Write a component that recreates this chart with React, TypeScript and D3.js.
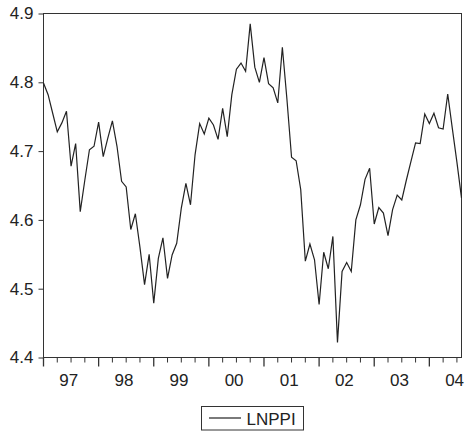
import React, { useEffect, useRef } from "react";
import * as d3 from "d3";

// Monthly observations, 1997M01 .. 2004M08
const startYear = 1997;
const lnppi: number[] = [
  4.799, 4.782, 4.755, 4.728, 4.741, 4.758, 4.678, 4.711, 4.612, 4.658, 4.702, 4.707,
  4.742, 4.692, 4.719, 4.744, 4.707, 4.656, 4.648, 4.586, 4.609, 4.56, 4.506, 4.55,
  4.479, 4.544, 4.574, 4.515, 4.549, 4.566, 4.617, 4.653, 4.622, 4.695, 4.74, 4.725,
  4.748, 4.738, 4.717, 4.762, 4.721, 4.782, 4.819, 4.828, 4.816, 4.885, 4.822, 4.8,
  4.836, 4.798, 4.792, 4.77, 4.851, 4.775, 4.691, 4.686, 4.644, 4.54, 4.565, 4.542,
  4.477, 4.553, 4.529, 4.576, 4.422, 4.525, 4.538, 4.525, 4.6, 4.622, 4.659, 4.675,
  4.594, 4.618, 4.61, 4.577, 4.615, 4.636, 4.629, 4.658, 4.685, 4.712, 4.711, 4.754,
  4.74, 4.755, 4.734, 4.732, 4.783, 4.733, 4.684, 4.632,
];
const yearLabels: string[] = ["97", "98", "99", "00", "01", "02", "03", "04"];
const yTicks: number[] = [4.4, 4.5, 4.6, 4.7, 4.8, 4.9];
const seriesName = "LNPPI";

export default function App() {
  const ref = useRef<SVGSVGElement>(null);

  useEffect(() => {
    document.body.style.margin = "0";
    const svg = d3.select(ref.current);
    svg.selectAll("*").remove();

    const W = 466, H = 440;
    const left = 43.5, right = 461.5, top = 13.5, bottom = 357.5;
    const font = "Liberation Sans, Arial, sans-serif";
    const fs = 17;
    const ink = "#222";

    const x = d3.scaleLinear().domain([0, lnppi.length - 1]).range([left, right]);
    const y = d3.scaleLinear().domain([4.4, 4.9]).range([bottom, top]);

    svg.attr("width", W).attr("height", H);

    // frame
    svg.append("rect")
      .attr("x", left).attr("y", top)
      .attr("width", right - left).attr("height", bottom - top)
      .attr("fill", "none").attr("stroke", "#333").attr("stroke-width", 1);

    // y axis ticks + labels
    const yAxis = d3.axisLeft(y).tickValues(yTicks).tickSize(5).tickPadding(5)
      .tickFormat(d3.format(".1f") as any);
    const gy = svg.append("g").attr("transform", `translate(${left},0)`).call(yAxis);
    gy.select(".domain").remove();
    gy.selectAll("line").attr("stroke", "#333");
    gy.selectAll("text").attr("font-family", font).attr("font-size", fs).attr("fill", ink);

    // x ticks: quarterly minor, yearly major
    const nYears = yearLabels.length;
    const minorIdx: number[] = [];
    for (let i = 0; i < lnppi.length; i += 3) minorIdx.push(i);
    const majorIdx = d3.range(nYears).map((k) => k * 12);
    const gx = svg.append("g");
    gx.selectAll("line.minor").data(minorIdx).enter().append("line")
      .attr("x1", (d) => x(d)).attr("x2", (d) => x(d))
      .attr("y1", bottom).attr("y2", (d) => bottom + (d % 12 === 0 ? 9 : 5))
      .attr("stroke", "#333").attr("stroke-width", (d) => (d % 12 === 0 ? 1.3 : 1));
    gx.selectAll("text").data(yearLabels).enter().append("text")
      .attr("x", (_d, k) => x(majorIdx[k] + 5.5))
      .attr("y", 386)
      .attr("text-anchor", "middle")
      .attr("font-family", font).attr("font-size", fs).attr("fill", ink)
      .text((d) => d);

    // series line
    const line = d3.line<number>().x((_d, i) => x(i)).y((d) => y(d));
    svg.append("path").datum(lnppi)
      .attr("d", line)
      .attr("fill", "none").attr("stroke", ink).attr("stroke-width", 1.2)
      .attr("stroke-linejoin", "miter");

    // legend
    const lg = svg.append("g");
    lg.append("rect").attr("x", 201.5).attr("y", 406.5).attr("width", 102).attr("height", 23.5)
      .attr("fill", "white").attr("stroke", "#333").attr("stroke-width", 1);
    lg.append("line").attr("x1", 209).attr("x2", 241).attr("y1", 418).attr("y2", 418)
      .attr("stroke", ink).attr("stroke-width", 1.2);
    lg.append("text").attr("x", 246.5).attr("y", 424.5)
      .attr("font-family", font).attr("font-size", fs).attr("fill", ink)
      .text(seriesName);
  }, []);

  return <svg ref={ref} style={{ position: "absolute", left: 0, top: 0, display: "block" }} />;
}
